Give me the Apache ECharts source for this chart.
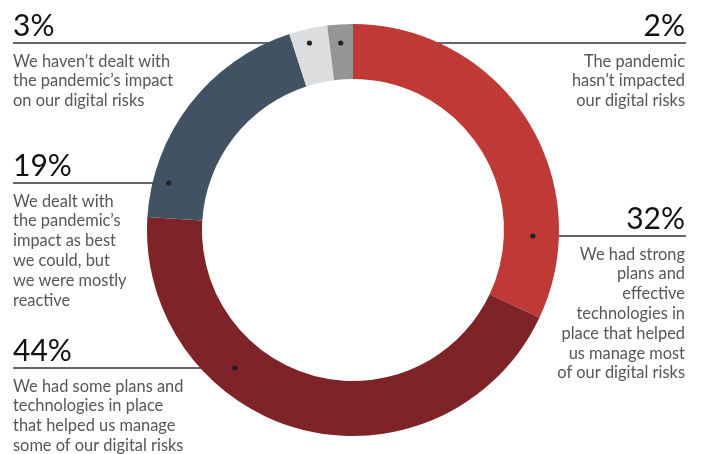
<!DOCTYPE html>
<html>
<head>
<meta charset="utf-8">
<script src="https://cdn.jsdelivr.net/npm/echarts@6/dist/echarts.min.js"></script>
<style>
  html, body { margin: 0; padding: 0; background: #fff; }
  #chart { width: 702px; height: 454px; }
</style>
</head>
<body>
<div id="chart"></div>
<script>
// Survey answers, in clockwise order from 12 o'clock
const answers = [
  'We had strong\nplans and\neffective\ntechnologies in\nplace that helped\nus manage most\nof our digital risks',
  'We had some plans and\ntechnologies in place\nthat helped us manage\nsome of our digital risks',
  'We dealt with\nthe pandemic\u2019s\nimpact as best\nwe could, but\nwe were mostly\nreactive',
  'We haven\u2019t dealt with\nthe pandemic\u2019s impact\non our digital risks',
  'The pandemic\nhasn\u2019t impacted\nour digital risks'
];
const shares = [32, 44, 19, 3, 2];
const sliceColors = ['#bf3a37', '#7e2429', '#415363', '#dcdddf', '#959595'];

// Geometry of the ring
const CX = 353, CY = 230;
const R_IN = 151, R_OUT = 206;

// Leader placement for each answer: side of the text block, height of the rule,
// and the radius at which the rule's dot sits inside the slice
const textSide = ['right', 'left', 'left', 'left', 'right'];
const leaderY = [236, 368, 183, 43, 43];
const leaderR = [180, 181.6, 190, 192, 187.4];
const TEXT_LEFT = 13, TEXT_RIGHT = 685;

// Which half of the ring a slice's middle falls in (+1 right, -1 left)
const total = shares.reduce((a, b) => a + b, 0);
const sliceHalf = shares.map((v, i) => {
  const before = shares.slice(0, i).reduce((a, b) => a + b, 0);
  const mid = (before + v / 2) / total * 2 * Math.PI;
  return Math.sin(mid) >= 0 ? 1 : -1;
});

function anchorOf(i) {
  const dy = leaderY[i] - CY;
  const dx = Math.sqrt(leaderR[i] * leaderR[i] - dy * dy);
  return [CX + sliceHalf[i] * dx, leaderY[i]];
}

const chart = echarts.init(document.getElementById('chart'), null, { renderer: 'canvas' });

const dots = shares.map((v, i) => {
  const a = anchorOf(i);
  return {
    type: 'circle',
    z: 100,
    silent: true,
    shape: { cx: a[0], cy: a[1], r: 2.6 },
    style: { fill: '#222' }
  };
});

chart.setOption({
  animation: false,
  backgroundColor: '#fff',
  textStyle: { fontFamily: 'Lato' },
  series: [{
    type: 'pie',
    center: [CX, CY],
    radius: [R_IN, R_OUT],
    startAngle: 90,
    clockwise: true,
    silent: true,
    itemStyle: { borderWidth: 0 },
    data: shares.map((v, i) => ({
      value: v,
      name: answers[i],
      itemStyle: { color: sliceColors[i] }
    })),
    label: {
      show: true,
      position: 'outside',
      overflow: 'none',
      formatter: p => '{pct|' + p.value + '%}\n{desc|' + p.name.split('\n').join('}\n{desc|') + '}',
      rich: {
        pct: { fontFamily: 'Lato', fontSize: 30, lineHeight: 51, color: '#111' },
        desc: { fontFamily: 'Lato', fontSize: 16.4, lineHeight: 19.8, color: '#565656' }
      }
    },
    labelLine: {
      show: true,
      lineStyle: { color: '#333', width: 1.3 }
    },
    labelLayout: function (p) {
      const i = p.dataIndex;
      const left = textSide[i] === 'left';
      const a = anchorOf(i);
      const endX = left ? TEXT_LEFT : TEXT_RIGHT + 1;
      return {
        x: left ? TEXT_LEFT : TEXT_RIGHT,
        y: leaderY[i] - 42.5,
        width: 300,
        align: left ? 'left' : 'right',
        verticalAlign: 'top',
        labelLinePoints: [[a[0], a[1]], [a[0], a[1]], [endX, a[1]]]
      };
    }
  }],
  graphic: dots
});
</script>
</body>
</html>
